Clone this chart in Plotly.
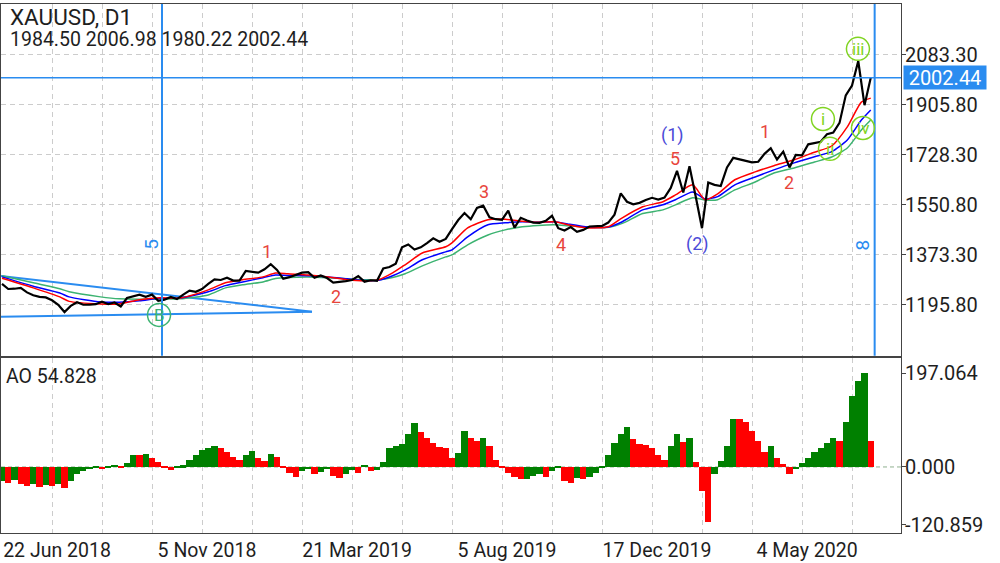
import plotly.graph_objects as go

# ---------------- data (x = trading-bar number counted from 22 Jun 2018) ----------------
close_step = 4
close = [1270, 1252, 1253, 1256, 1240, 1230, 1224, 1222, 1212, 1196,
         1170, 1192, 1205, 1196, 1196, 1198, 1207, 1198, 1204, 1190,
         1220, 1227, 1232, 1224, 1232, 1210, 1214, 1224, 1216, 1232,
         1246, 1242, 1252, 1270, 1286, 1284, 1292, 1282, 1282, 1316,
         1314, 1310, 1322, 1340, 1320, 1288, 1294, 1302, 1310, 1312,
         1292, 1300, 1291, 1275, 1277, 1280, 1284, 1298, 1278, 1283,
         1281, 1325, 1330, 1342, 1400, 1410, 1392, 1400, 1415, 1432,
         1420, 1430, 1465, 1497, 1522, 1500, 1540, 1548, 1507, 1500,
         1498, 1530, 1470, 1505, 1495, 1488, 1487, 1494, 1512, 1468,
         1460, 1472, 1455, 1462, 1474, 1474, 1476, 1488, 1516, 1592,
         1562, 1553, 1558, 1568, 1576, 1570, 1577, 1611, 1672, 1595,
         1688, 1580, 1468, 1630, 1622, 1618, 1684, 1718, 1712, 1708,
         1702, 1704, 1732, 1752, 1712, 1740, 1684, 1728, 1727, 1766,
         1771, 1775, 1802, 1808, 1842, 1940, 1975, 2062, 1905, 2002.44]
close_bars = list(range(0, close_step * len(close), close_step))

ma_bars = [0, 20, 37, 43, 63, 75, 88, 101, 114, 132, 143, 154, 167, 175, 183, 196, 209,
           221, 232, 241, 250, 258, 269, 284, 288, 298, 311, 322, 333, 343, 354, 362,
           375, 388, 397, 410, 423, 431, 442, 450, 458, 469, 482, 494, 507, 520, 531,
           541, 550, 556]
ma_red = [1290, 1256, 1224, 1208, 1199, 1199, 1214, 1221, 1220, 1249, 1274, 1285, 1295,
          1309, 1306, 1302, 1295, 1285, 1281, 1285, 1309, 1338, 1380, 1402, 1416, 1469,
          1498, 1500, 1493, 1489, 1491, 1480, 1469, 1473, 1505, 1544, 1562, 1586, 1622,
          1569, 1590, 1640, 1668, 1690, 1711, 1738, 1760, 1828, 1916, 1930]
ma_blue = [1295, 1262, 1238, 1224, 1206, 1205, 1210, 1219, 1220, 1242, 1264, 1277, 1292,
           1302, 1300, 1299, 1295, 1288, 1282, 1283, 1299, 1320, 1356, 1384, 1391, 1437,
           1480, 1487, 1491, 1489, 1491, 1483, 1472, 1472, 1491, 1533, 1551, 1569, 1597,
           1572, 1580, 1622, 1650, 1675, 1700, 1722, 1740, 1781, 1852, 1888]
ma_green = [1299, 1274, 1253, 1242, 1224, 1217, 1216, 1217, 1217, 1231, 1256, 1267, 1277,
            1289, 1293, 1295, 1292, 1288, 1285, 1285, 1293, 1306, 1334, 1366, 1373, 1409,
            1444, 1462, 1473, 1478, 1480, 1477, 1472, 1471, 1485, 1520, 1533, 1551, 1576,
            1568, 1569, 1604, 1632, 1664, 1682, 1703, 1721, 1753, 1817, 1852]

ao = [-30, -33, -28, -36, -40, -35, -42, -38, -40, -36,
      -44, -30, -15, -8, -3, 2, -2, 3, 5, 1,
      8, 26, 25, 28, 20, 10, 2, -6, 2, 4,
      14, 25, 35, 40, 44, 40, 32, 22, 14, 26,
      33, 20, 12, 28, 22, 2, -12, -20, -8, -3,
      -14, -10, -5, -18, -22, -15, -6, -12, 5, -8,
      -6, 10, 40, 44, 48, 70, 92, 74, 60, 50,
      42, 40, 20, 30, 75, 62, 55, 62, 45, 15,
      2, -12, -20, -25, -24, -18, -14, -20, -8, 2,
      -30, -33, -22, -26, -20, -12, 2, 25, 50, 70,
      84, 58, 48, 46, 40, 25, 14, 45, 70, 52,
      62, 10, -50, -115, -15, 12, 45, 100, 100, 95,
      76, 55, 32, 45, 20, 6, -15, -5, 8, 20,
      32, 40, 50, 62, 55, 95, 150, 180, 197, 54.828]
ao_bars = list(range(0, close_step * len(ao), close_step))

date_tick_bars = [0, 96, 192, 288, 384, 480]
date_tick_text = ["22 Jun 2018", "5 Nov 2018", "21 Mar 2019", "5 Aug 2019", "17 Dec 2019", "4 May 2020"]
price_ticks = [1195.80, 1373.30, 1550.80, 1728.30, 1905.80, 2083.30]
ao_ticks = [197.064, 0.0, -120.859]
last_price = 2002.44
ohlc_text = "1984.50 2006.98 1980.22 2002.44"

wedge_bars = [-1.3, 198.4]
wedge_upper = [1298.7, 1171.0]
wedge_lower = [1153.2, 1171.0]

RED_T = "#e8453c"
BLUE_T = "#4b4bd8"
wave_labels = [("1", 169.6, 1384, RED_T), ("2", 213.8, 1224, RED_T), ("3", 308.5, 1597, RED_T),
               ("4", 357.8, 1409, RED_T), ("5", 430.7, 1714, RED_T), ("(1)", 428.8, 1800, BLUE_T),
               ("(2)", 444.8, 1412, BLUE_T), ("1", 488.3, 1813, RED_T), ("2", 503.7, 1632, RED_T)]
LIME = "#80d422"
circle_labels = [("B", 100.5, 1160, "#3cb371"), ("i", 525.4, 1856, LIME), ("ii", 529.9, 1750, LIME),
                 ("iii", 547.8, 2105, LIME), ("iv", 551.0, 1824, LIME)]
vlines = [(102.4, "5", 96.0), (558.5, "8", 550.9)]
vline_label_price = 1409

LINE_BLUE = "#2a8cf0"
FONT = "Roboto"
TXT = "#1e1e1e"

# ---------------- figure ----------------
fig = go.Figure()

for yy in (wedge_upper, wedge_lower):
    fig.add_trace(go.Scatter(x=wedge_bars, y=yy, mode="lines", xaxis="x", yaxis="y",
                             line=dict(color=LINE_BLUE, width=2), hoverinfo="skip"))

for vals, col in ((ma_green, "#3cb371"), (ma_blue, "#0000ff"), (ma_red, "#ff0000")):
    fig.add_trace(go.Scatter(x=ma_bars, y=vals, mode="lines", xaxis="x", yaxis="y",
                             line=dict(color=col, width=1.5, shape="spline", smoothing=0.6)))

fig.add_trace(go.Scatter(x=close_bars, y=close, mode="lines", xaxis="x", yaxis="y",
                         line=dict(color="#000000", width=2.2)))

ao_colors = ["#008000" if k == 0 or ao[k] > ao[k - 1] else "#ff0000" for k in range(len(ao))]
fig.add_trace(go.Bar(x=ao_bars, y=ao, width=close_step, xaxis="x2", yaxis="y2",
                     marker=dict(color=ao_colors, line=dict(width=0))))

shapes = []
shapes.append(dict(type="line", xref="x domain", yref="y", x0=0, x1=1, y0=last_price, y1=last_price,
                   line=dict(color=LINE_BLUE, width=1.5)))
for xb, _, _ in vlines:
    shapes.append(dict(type="line", xref="x", yref="y domain", x0=xb, x1=xb, y0=0, y1=1,
                       line=dict(color=LINE_BLUE, width=2)))
shapes.append(dict(type="line", xref="x2 domain", yref="y2", x0=0, x1=1, y0=0, y1=0,
                   line=dict(color="#8fb08f", width=1, dash="4px,3px"), layer="below"))
for txt, xb, yp, col in circle_labels:
    shapes.append(dict(type="circle", xref="x", yref="y", xsizemode="pixel", ysizemode="pixel",
                       xanchor=xb, yanchor=yp, x0=-11.5, x1=11.5, y0=-11.5, y1=11.5,
                       line=dict(color=col, width=1.5)))

ann = []
for txt, xb, yp, col in wave_labels:
    ann.append(dict(x=xb, y=yp, xref="x", yref="y", text=txt, showarrow=False,
                    font=dict(family=FONT, size=18, color=col)))
for txt, xb, yp, col in circle_labels:
    ann.append(dict(x=xb, y=yp, xref="x", yref="y", text=txt, showarrow=False,
                    font=dict(family=FONT, size=17, color=col)))
for _, txt, xl in vlines:
    ann.append(dict(x=xl, y=vline_label_price, xref="x", yref="y", text=txt, showarrow=False,
                    textangle=-90, font=dict(family=FONT, size=19, color=LINE_BLUE)))
ann.append(dict(x=0.0078, y=0.9754, xref="paper", yref="paper", xanchor="left", yanchor="middle",
                text="XAUUSD, D1", showarrow=False, font=dict(family=FONT, size=22.5, color=TXT)))
ann.append(dict(x=0.0078, y=0.932, xref="paper", yref="paper", xanchor="left", yanchor="middle",
                text=ohlc_text, showarrow=False, font=dict(family=FONT, size=19.5, color=TXT)))
ann.append(dict(x=0.0033, y=0.2949, xref="paper", yref="paper", xanchor="left", yanchor="middle",
                text="AO " + f"{ao[-1]:.3f}", showarrow=False, font=dict(family=FONT, size=19.5, color=TXT)))
ann.append(dict(x=1.0022, y=last_price, xref="paper", yref="y", xanchor="left", yanchor="middle",
                text=f"{last_price:.2f}", showarrow=False, bgcolor=LINE_BLUE, width=80, height=21,
                align="center", font=dict(family=FONT, size=20, color="white")))

xr = [-0.64, 575.36]
GRID = "#cccccc"
fig.update_layout(
    width=1000, height=563, margin=dict(l=1, r=99, t=4, b=30),
    paper_bgcolor="white", plot_bgcolor="white", showlegend=False, bargap=0,
    font=dict(family=FONT, size=19, color=TXT),
    shapes=shapes, annotations=ann,
    xaxis=dict(domain=[0, 1], anchor="y", range=xr, matches="x2", showticklabels=False,
               tickmode="linear", tick0=0, dtick=32, ticks="", showgrid=True, gridcolor=GRID,
               griddash="5px,4px", zeroline=False, showline=True, mirror=True, linecolor="#444",
               linewidth=1),
    yaxis=dict(domain=[0.335, 1], anchor="x", side="right", range=[1014.75, 2264.4],
               tickmode="array", tickvals=price_ticks, ticktext=[f"{v:.2f}" for v in price_ticks],
               showgrid=True, gridcolor=GRID, griddash="5px,4px", zeroline=False, showline=True,
               mirror=True, linecolor="#444", ticks="outside", ticklen=4, tickcolor="#444",
               ticklabelstandoff=-5, tickfont=dict(family=FONT, size=20, color=TXT)),
    xaxis2=dict(domain=[0, 1], anchor="y2", range=xr, tickmode="array", tickvals=date_tick_bars,
                ticktext=date_tick_text, ticklabelshift=55, ticks="", showgrid=True, gridcolor=GRID,
                griddash="5px,4px", minor=dict(tickmode="linear", tick0=0, dtick=32, showgrid=True,
                                               gridcolor=GRID, griddash="5px,4px"),
                zeroline=False, showline=True, mirror=True, linecolor="#444",
                tickfont=dict(family=FONT, size=19.5, color=TXT)),
    yaxis2=dict(domain=[0, 0.331], anchor="x2", side="right", range=[-138.6, 228.9],
                tickmode="array", tickvals=ao_ticks, ticktext=["197.064", "0.000", "-120.859"],
                showgrid=False, zeroline=False, showline=True, mirror=True, linecolor="#444",
                ticks="outside", ticklen=4, tickcolor="#444", ticklabelstandoff=-5,
                tickfont=dict(family=FONT, size=20, color=TXT)),
)

fig.write_html("out.html")
